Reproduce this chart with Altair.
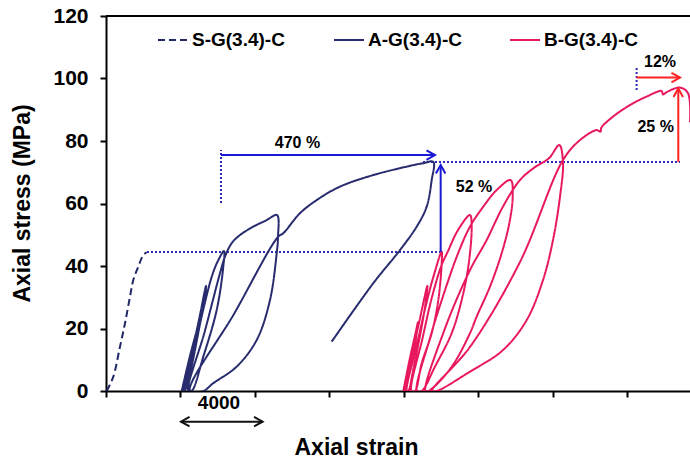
import altair as alt
import pandas as pd

FONT = "Liberation Sans"
SERIES = ["S-G(3.4)-C", "A-G(3.4)-C", "B-G(3.4)-C"]
SERIES_COLORS = ["#1f2766", "#282c6e", "#e8185f"]
SERIES_DASH = [[7, 4], [1, 0], [1, 0]]

# strain in microstrain (tick spacing 4000), stress in MPa
S_strain = [40, 392, 752, 1020, 1289, 1466, 1734, 2003, 2185]
S_stress = [0, 4.6, 14.2, 21.7, 30.2, 35.5, 39.8, 43.5, 44.4]

A_strain = [4064, 4500, 4900, 5050, 4950, 4600, 4150,
            4600, 5000, 5369, 5320, 5000, 4600, 4241,
            4800, 5300, 5700, 6000, 6335, 6298, 5943, 5224, 4600,
            4419, 5300, 6121, 6389, 6748, 7194, 7910, 8600, 9181, 9235, 9164, 8805, 8090, 7016, 5761, 5224,
            4510, 6896, 9235, 9521, 10416, 11313, 12563, 14352, 16145, 17036, 17574, 17487, 17218, 16682,
            15785, 14352, 12118]
A_stress = [0, 11, 20, 23.5, 19.5, 9.5, 0,
            12, 23, 33.6, 30, 20, 8, 0,
            15, 28, 37, 41.5, 44.8, 39.8, 25.9, 11.0, 0,
            0, 19, 37.7, 43, 47.3, 49.9, 52.6, 54.6, 56.3, 49.3, 44, 29.1, 16.3, 7.8, 2.5, 0,
            0, 24.9, 49.3, 50.5, 56.9, 61.1, 65.4, 69.1, 71.8, 72.9, 73.3, 67.5, 59, 52.6,
            45.1, 34.5, 15.8]

B_strain = [15964, 16300, 16600, 16750, 16650, 16350, 16050,
            16450, 16850, 17253, 17180, 16900, 16500, 16232,
            16150, 16700, 17200, 17600, 18024, 18024, 17843, 17487, 16950, 16590,
            16400, 17000, 17500, 18000, 18350, 18900, 19543, 19633, 19453, 19096, 18560, 17664, 16950,
            16700, 17400, 18300, 18900, 19543, 20257, 20975, 21728, 21835, 21655, 21245, 20617, 19902, 19543,
            18700, 17900, 17307,
            17150, 18200, 19543, 20438, 21315, 22228, 23000, 23785, 24338, 24537, 24376, 24000, 23463, 22587,
            21315, 19543, 17754,
            17500, 19543, 22228, 24537, 25450, 26346, 26550, 26600, 27222, 28134, 29020, 29830, 29906, 30121,
            30820, 31249, 31356]
B_stress = [0, 10, 18, 22, 17, 7, 0,
            12, 23, 33.6, 29, 19, 7, 0,
            0, 15, 28, 37, 44.6, 40.9, 29.1, 18.5, 8.9, 0,
            0, 17, 30, 40, 44.6, 51.5, 56.3, 52.6, 39.8, 29.1, 18.5, 7.8, 0,
            0, 17, 34, 44, 52.6, 59, 64.3, 67.5, 62.2, 53.7, 44.1, 33.4, 23.8, 18.5,
            9, 3, 0,
            0, 20, 38.7, 48.3, 59, 67.5, 71.5, 74.5, 78.7, 73.3, 62.2, 48.3, 35.5, 22.7,
            13.1, 6.2, 0,
            0, 14.1, 41.3, 73.9, 80.3, 83.5, 83.0, 84.3, 87.8, 91.5, 94.2, 96.0, 94.9, 95.7,
            97.1, 95.3, 86]

# annotation arrows
BLUE, DOT_BLUE, RED = "#1a1ad6", "#2b2bb8", "#ff2222"
arrow_strain = [6174, 17969, 28490, 30727, 4027]
arrow_strain2 = [17664, 17969, 30820, 30727, 8408]
arrow_stress = [75.5, 44.5, 100.3, 73.3, -9.8]
arrow_stress2 = [75.5, 72.3, 100.3, 96.8, -9.8]
arrow_color = [BLUE, BLUE, RED, RED, "#111111"]

head_strain = [17664, 17969, 30820, 30727, 4027, 8408]
head_stress = [75.5, 72.3, 100.3, 96.8, -9.8, -9.8]
head_angle = [0, 270, 0, 270, 180, 0]
head_color = [BLUE, BLUE, RED, RED, "#111111", "#111111"]

dot_strain = [2200, 17020, 6174, 28490]
dot_strain2 = [17969, 30820, 6174, 28490]
dot_stress = [44.5, 73.3, 60.2, 96.3]
dot_stress2 = [44.5, 73.3, 77.1, 103.7]

note_text = ["470 %", "52 %", "25 %", "12%"]
note_strain = [10282, 19758, 29510, 29745]
note_stress = [79.4, 65.3, 84.6, 105.4]

scale_text = ["4000"]
scale_strain = [6067]
scale_stress = [-3.8]

X_MAX = 31356
X_TICKS = [0, 4000, 8000, 12000, 16000, 20000, 24000, 28000]
Y_TICKS = [0, 20, 40, 60, 80, 100, 120]

rows = []
for name, xs, ys in [(SERIES[0], S_strain, S_stress), (SERIES[1], A_strain, A_stress),
                     (SERIES[2], B_strain, B_stress)]:
    for i, (x, y) in enumerate(zip(xs, ys)):
        rows.append({"series": name, "strain": x, "stress": y, "idx": i})
curves = pd.DataFrame(rows)

arrows = pd.DataFrame({"strain": arrow_strain, "strain2": arrow_strain2,
                       "stress": arrow_stress, "stress2": arrow_stress2, "col": arrow_color})
heads = pd.DataFrame({"strain": head_strain, "stress": head_stress, "ang": head_angle, "col": head_color})
dots = pd.DataFrame({"strain": dot_strain, "strain2": dot_strain2, "stress": dot_stress, "stress2": dot_stress2})
notes = pd.DataFrame({"strain": note_strain, "stress": note_stress, "txt": note_text})
scale_note = pd.DataFrame({"strain": scale_strain, "stress": scale_stress, "txt": scale_text})

x_scale = alt.Scale(domain=[0, X_MAX], nice=False, zero=False)
y_scale = alt.Scale(domain=[0, 120], nice=False)

x_axis = alt.Axis(values=X_TICKS, labels=False, ticks=True, tickSize=6, tickWidth=2, tickColor="black",
                  domainColor="black", domainWidth=2, grid=False, title="Axial strain",
                  titleFont=FONT, titleFontSize=23, titleFontWeight="bold", titleColor="black",
                  titleX=250, titleY=56, titleAlign="center", titleBaseline="middle")
y_axis = alt.Axis(values=Y_TICKS, tickSize=6, tickWidth=2, tickColor="black", domainColor="black",
                  domainWidth=2, grid=False, labelFont=FONT, labelFontSize=21, labelFontWeight="bold",
                  labelColor="black", labelPadding=12, title="Axial stress (MPa)", titleFont=FONT,
                  titleFontSize=23, titleFontWeight="bold", titleColor="black", titleX=-84, titleY=187,
                  titleAngle=270, titleAlign="center", titleBaseline="middle")


def X(field="strain"):
    return alt.X(f"{field}:Q", scale=x_scale, axis=x_axis)


def Y(field="stress"):
    return alt.Y(f"{field}:Q", scale=y_scale, axis=y_axis)


legend = alt.Legend(orient="none", legendX=51, legendY=8, direction="horizontal", title=None,
                    symbolType="stroke", symbolSize=900, symbolStrokeWidth=2, labelFont=FONT,
                    labelFontSize=19, labelFontWeight="bold", labelColor="black", labelOffset=3,
                    columnPadding=44, gridAlign="all")

lines = alt.Chart(curves).mark_line(strokeWidth=2, clip=True, interpolate="catmull-rom").encode(
    x=X(), y=Y(),
    color=alt.Color("series:N", scale=alt.Scale(domain=SERIES, range=SERIES_COLORS), legend=legend),
    strokeDash=alt.StrokeDash("series:N", scale=alt.Scale(domain=SERIES, range=SERIES_DASH), legend=legend),
    order="idx:Q",
)

top_border = alt.Chart(pd.DataFrame({"v": [120]})).mark_rule(color="black", strokeWidth=2).encode(
    y=alt.Y("v:Q", scale=y_scale, axis=y_axis))

dotted = alt.Chart(dots).mark_rule(color=DOT_BLUE, strokeWidth=2, strokeDash=[2, 2]).encode(
    x=X(), x2="strain2:Q", y=Y(), y2="stress2:Q")

arrow_lines = alt.Chart(arrows).mark_rule(strokeWidth=2).encode(
    x=X(), x2="strain2:Q", y=Y(), y2="stress2:Q",
    color=alt.Color("col:N", scale=None, legend=None))

arrow_heads = alt.Chart(heads).mark_point(
    shape="M -1.8 -1 L 0 0 L -1.8 1", filled=False, size=90, strokeWidth=2, opacity=1).encode(
    x=X(), y=Y(), angle=alt.Angle("ang:Q", scale=None),
    color=alt.Color("col:N", scale=None, legend=None))

note_layer = alt.Chart(notes).mark_text(font=FONT, fontSize=16, fontWeight="bold", color="black").encode(
    x=X(), y=Y(), text="txt:N")

scale_layer = alt.Chart(scale_note).mark_text(font=FONT, fontSize=19, fontWeight="bold", color="black").encode(
    x=X(), y=Y(), text="txt:N")

chart = alt.layer(top_border, dotted, lines, arrow_lines, arrow_heads, note_layer, scale_layer).properties(
    width=584, height=375,
    autosize=alt.AutoSizeParams(type="none"),
    padding={"left": 106, "top": 16, "right": 0, "bottom": 70},
).configure_view(stroke=None).configure(background="white")

chart.save("out.html", embed_options={"renderer": "svg", "actions": False})
